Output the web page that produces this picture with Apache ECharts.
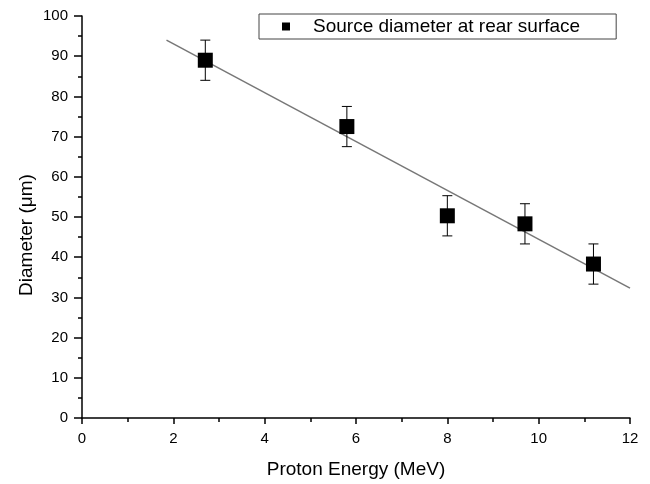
<!DOCTYPE html>
<html lang="en">
<head>
    <meta charset="utf-8">
    <title>Source diameter vs proton energy</title>
    <script src="https://cdn.jsdelivr.net/npm/echarts@6/dist/echarts.min.js"></script>
    <style>
        html, body { margin: 0; padding: 0; background: #fff; }
        #chart { width: 650px; height: 484px; }
    </style>
</head>
<body>
    <div id="chart"></div>
    <script>
        // data
        var energy = [2.7, 5.8, 8.0, 9.7, 11.2];          // MeV
        var diameter = [89, 72.5, 50.3, 48.3, 38.3];      // um
        var errBar = [5, 5, 5, 5, 5];                     // +/- um
        var fitX = [1.85, 12];
        var fitY = [94, 32.3];
        var xTicks = [0, 2, 4, 6, 8, 10, 12];
        var yTicks = [0, 10, 20, 30, 40, 50, 60, 70, 80, 90, 100];

        var font = "'Liberation Sans', Arial, Helvetica, sans-serif";
        var myChart = echarts.init(document.getElementById('chart'));

        var points = energy.map(function (x, i) { return [x, diameter[i]]; });
        var errData = energy.map(function (x, i) {
            return [x, diameter[i] - errBar[i], diameter[i] + errBar[i]];
        });
        var fitData = fitX.map(function (x, i) { return [x, fitY[i]]; });

        function renderErr(params, api) {
            var lo = api.coord([api.value(0), api.value(1)]);
            var hi = api.coord([api.value(0), api.value(2)]);
            var w = 5;
            var st = { stroke: '#000', lineWidth: 1 };
            return {
                type: 'group',
                children: [
                    { type: 'line', shape: { x1: lo[0], y1: lo[1], x2: hi[0], y2: hi[1] }, style: st },
                    { type: 'line', shape: { x1: lo[0] - w, y1: lo[1], x2: lo[0] + w, y2: lo[1] }, style: st },
                    { type: 'line', shape: { x1: hi[0] - w, y1: hi[1], x2: hi[0] + w, y2: hi[1] }, style: st }
                ]
            };
        }

        var option = {
            backgroundColor: '#fff',
            animation: false,
            textStyle: { fontFamily: font },
            grid: { left: 82, right: 20, top: 16, bottom: 62 },
            legend: {
                data: ['Source diameter at rear surface'],
                left: 259, top: 14,
                padding: [3, 36, 3, 23],
                borderColor: '#444', borderWidth: 1,
                itemWidth: 8, itemHeight: 8,
                icon: 'rect',
                textStyle: { fontSize: 19, color: '#000', fontFamily: font, padding: [0, 0, 0, 18] }
            },
            xAxis: {
                type: 'value', min: 0, max: 12, interval: 2,
                name: 'Proton Energy (MeV)',
                nameLocation: 'middle', nameGap: 42,
                nameTextStyle: { fontSize: 19, color: '#000', fontFamily: font },
                axisLine: { onZero: false, lineStyle: { color: '#000', width: 1.5 } },
                axisTick: { length: 6, lineStyle: { color: '#000', width: 1.5 } },
                minorTick: { show: true, splitNumber: 2, length: 4, lineStyle: { color: '#000', width: 1.5 } },
                splitLine: { show: false },
                axisLabel: {
                    fontSize: 15, color: '#000', margin: 13,
                    customValues: xTicks
                }
            },
            yAxis: {
                type: 'value', min: 0, max: 100, interval: 10,
                axisLine: { show: true, lineStyle: { color: '#000', width: 1.5 } },
                axisTick: { show: true, length: 8, lineStyle: { color: '#000', width: 1.5 } },
                minorTick: { show: true, splitNumber: 2, length: 4, lineStyle: { color: '#000', width: 1.5 } },
                splitLine: { show: false },
                axisLabel: {
                    fontSize: 15, color: '#000', margin: 14,
                    customValues: yTicks
                }
            },
            graphic: [{
                type: 'text',
                x: 27, y: 235,
                rotation: Math.PI / 2,
                style: {
                    text: 'Diameter (\u03bcm)',
                    fontSize: 19, fontFamily: font, fill: '#000',
                    align: 'center', verticalAlign: 'middle'
                }
            }],
            series: [{
                name: 'fit',
                type: 'line',
                data: fitData,
                symbol: 'none',
                lineStyle: { color: '#777', width: 1.5 },
                z: 1
            }, {
                name: 'err',
                type: 'custom',
                renderItem: renderErr,
                data: errData,
                z: 2
            }, {
                name: 'Source diameter at rear surface',
                type: 'scatter',
                data: points,
                symbol: 'rect',
                symbolSize: 15,
                itemStyle: { color: '#000', opacity: 1 },
                z: 3
            }]
        };

        myChart.setOption(option);
    </script>
</body>
</html>
